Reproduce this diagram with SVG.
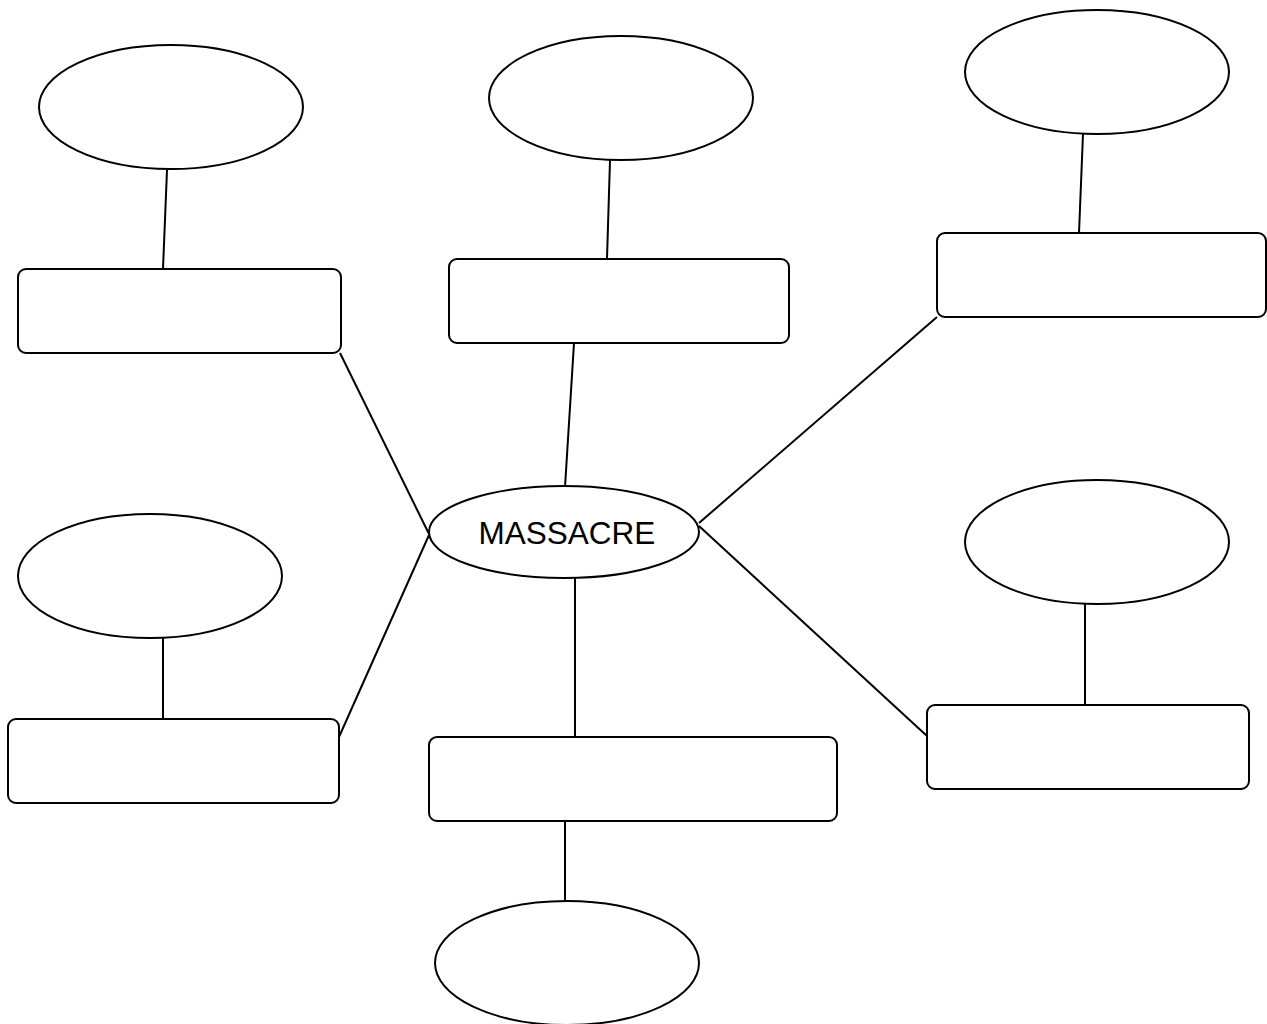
<svg xmlns="http://www.w3.org/2000/svg" width="1267" height="1024" viewBox="0 0 1267 1024">
<style>
.n{fill:#fff;stroke:#000;stroke-width:2}
.c line{stroke:#000;stroke-width:2}
.t{font-family:"Liberation Sans",Arial,sans-serif;font-size:31.5px;fill:#000;text-anchor:middle}
</style>
<rect width="1267" height="1024" fill="#fff"/>
<g class="c" id="connectors">
<line x1="167" y1="170" x2="163" y2="269"/>
<line x1="610" y1="160" x2="607" y2="259"/>
<line x1="1083" y1="134" x2="1079" y2="233"/>
<line x1="163" y1="638" x2="163" y2="719"/>
<line x1="1085" y1="604" x2="1085" y2="705"/>
<line x1="565" y1="821" x2="565" y2="901"/>
<line x1="340" y1="353" x2="429" y2="534"/>
<line x1="339" y1="737" x2="429" y2="535"/>
<line x1="574" y1="343" x2="565" y2="487"/>
<line x1="937" y1="317" x2="699" y2="523"/>
<line x1="927" y1="736" x2="699" y2="526"/>
<line x1="575" y1="578" x2="575" y2="737"/>
</g>
<g id="center"><ellipse class="n" cx="564" cy="532" rx="135" ry="46"/><text class="t" x="567" y="544">MASSACRE</text></g>
<g id="e1"><ellipse class="n" cx="171" cy="107" rx="132" ry="62"/></g>
<g id="e2"><ellipse class="n" cx="621" cy="98" rx="132" ry="62"/></g>
<g id="e3"><ellipse class="n" cx="1097" cy="72" rx="132" ry="62"/></g>
<g id="e4"><ellipse class="n" cx="150" cy="576" rx="132" ry="62"/></g>
<g id="e5"><ellipse class="n" cx="1097" cy="542" rx="132" ry="62"/></g>
<g id="e6"><ellipse class="n" cx="567" cy="963" rx="132" ry="62"/></g>
<g id="r1"><rect class="n" x="18" y="269" width="323" height="84" rx="8"/></g>
<g id="r2"><rect class="n" x="449" y="259" width="340" height="84" rx="8"/></g>
<g id="r3"><rect class="n" x="937" y="233" width="329" height="84" rx="8"/></g>
<g id="r4"><rect class="n" x="8" y="719" width="331" height="84" rx="8"/></g>
<g id="r5"><rect class="n" x="429" y="737" width="408" height="84" rx="8"/></g>
<g id="r6"><rect class="n" x="927" y="705" width="322" height="84" rx="8"/></g>
</svg>
